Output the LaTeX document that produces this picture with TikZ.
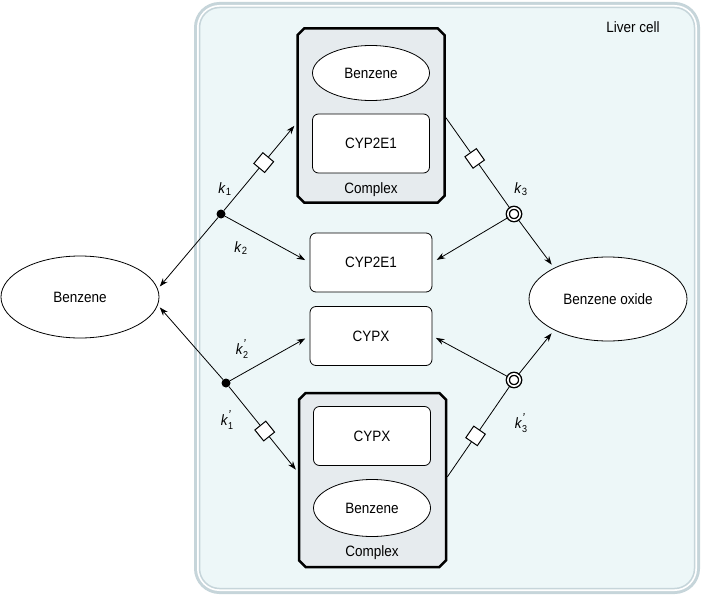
\documentclass[tikz,border=0pt]{standalone}
\usepackage{fontspec}
\setmainfont[FakeStretch=0.9]{Liberation Sans}
\usepackage{tikz}
\usepackage{xcolor}
\usetikzlibrary{arrows.meta,shapes.geometric,shapes.misc}
\definecolor{fondcellule}{HTML}{EDF7F8}
\definecolor{bordcellule}{HTML}{C6D5DA}
\definecolor{fondcomplexe}{HTML}{E6EBEE}
\newcommand{\kk}[1]{\textit{k}\textsubscript{#1}}
\newcommand{\kp}[1]{\textit{k}\raisebox{-4pt}{\fontsize{10}{7}\selectfont\shortstack[l]{\fontsize{13}{7}\selectfont\textit{\char"2019}\\#1}}}
\tikzset{
Cellule/.style={
 draw=bordcellule, 
 line width=1.5pt, 
 fill=fondcellule, 
 rounded corners=20pt, 
 preaction={draw=bordcellule, line width=11pt}, 
 preaction={draw=white, line width=5pt}, 
 minimum width=495pt, 
 minimum height=581pt
 },
Complexe/.style={
 chamfered rectangle, 
 chamfered rectangle xsep=7pt, 
 chamfered rectangle ysep=7pt, 
 draw=black, 
 line width=2.5pt, 
 fill=fondcomplexe, 
 minimum width=147pt, 
 minimum height=174pt
 },
Boite/.style={
 rectangle, 
 draw=black, 
 rounded corners=6pt, 
 fill=white, 
 line width=0.8pt, 
 minimum width=#1, 
 minimum height=59pt
 },
Boite/.default={117pt},
Ovale/.style={
 ellipse, 
 draw=black, 
 fill=white, 
 line width=0.8pt, 
 inner sep=0pt
 },
Point/.style={
 circle, 
 fill=black, 
 inner sep=0pt, 
 minimum size=9pt
 },
Anneau/.style={
 circle, 
 draw=black, 
 double=white, 
 double distance=1.6pt, 
 line width=1.4pt, 
 fill=white, 
 inner sep=0pt, 
 minimum size=12.3pt
 },
Carre/.style={
 rectangle, 
 draw=black, 
 fill=white, 
 line width=1pt, 
 inner sep=0pt, 
 minimum size=14pt, 
 sloped
 },
Ligne/.style={
 draw=black, 
 line width=0.8pt
 },
Fleche/.style={
 Ligne, 
 -{Stealth[length=8.5pt,width=6pt]}, 
 shorten >=#1
 },
Fleche/.default={3pt}
}

\begin{document}
\begin{tikzpicture}[x=1pt,y=-1pt,font=\fontsize{15}{17}\selectfont]
\useasboundingbox (0,0) rectangle (706,596);
\node[Cellule] (cell) at (447,298) {};
\node[anchor=center] (lcell) at (633,27) {Liver cell};
\node[Complexe] (cplxA) at (371,115.5) {};
\node[Ovale,minimum width=117pt,minimum height=55pt] (benzA) at (371,73) {Benzene};
\node[Boite] (cypA) at (371,143.5) {CYP2E1};
\node (lblA) at (371,190) {Complex};
\node[Boite=122pt] (cyp2e1) at (371,262.5) {CYP2E1};
\node[Boite=122pt] (cypx) at (371,336) {CYPX};
\node[Complexe] (cplxB) at (372.5,480) {};
\node[Boite] (cypB) at (372,436) {CYPX};
\node[Ovale,minimum width=117pt,minimum height=57pt] (benzB) at (372,508) {Benzene};
\node (lblB) at (372,553) {Complex};
\node[Ovale,minimum width=158pt,minimum height=82pt] (benz) at (80,297) {Benzene};
\node[Ovale,minimum width=158pt,minimum height=84pt] (oxyde) at (608,299) {Benzene oxide};
\node[Point] (ptA) at (221,214) {};
\node[Point] (ptB) at (226,383) {};
\node[Anneau] (anA) at (514,214) {};
\node[Anneau] (anB) at (514,380) {};
\node (kA) at (225,189) {\kk{1}};
\node (kB) at (241,248) {\kk{2}};
\node (kC) at (521,189) {\kk{3}};
\node (kD) at (242,349) {\kp{2}};
\node (kE) at (227,420) {\kp{1}};
\node (kF) at (521,423) {\kp{3}};
\draw[Fleche] (ptA) -- (benz.6);
\draw[Fleche] (ptA) -- node[Carre,pos=0.55] (sqA) {} ([yshift=-8pt]cplxA.west);
\draw[Fleche=5pt] (ptA) -- (cyp2e1.west);
\draw[Fleche] (ptB) -- (benz.-6);
\draw[Fleche=5pt] (ptB) -- (cypx.west);
\draw[Fleche] (ptB) -- node[Carre,pos=0.52] (sqB) {} ([yshift=8pt]cplxB.west);
\draw[Ligne] ([yshift=-2pt]cplxA.east) -- node[Carre,pos=0.45] (sqC) {} (anA);
\draw[Ligne] ([yshift=3pt]cplxB.east) -- node[Carre,pos=0.45] (sqD) {} (anB);
\draw[Fleche=5pt] (anA) -- (cyp2e1.east);
\draw[Fleche=4pt] (anA) -- (oxyde.150);
\draw[Fleche=4pt] (anB) -- (cypx.east);
\draw[Fleche=4pt] (anB) -- (oxyde.210);
\end{tikzpicture}
\end{document}
